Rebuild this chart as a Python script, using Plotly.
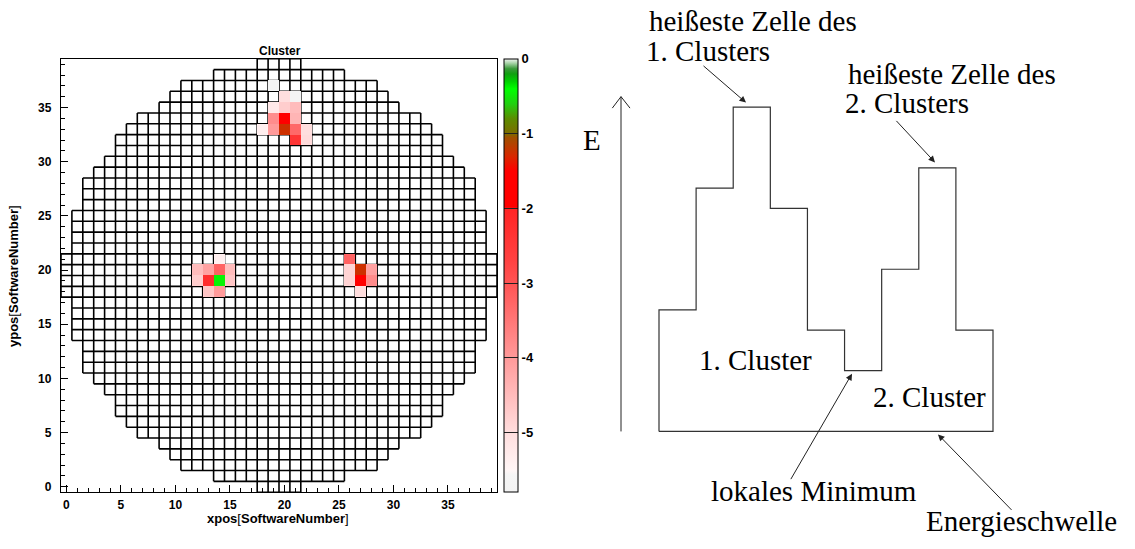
import plotly.graph_objects as go

W, H = 1135, 549

# ---------------------------------------------------------------------------
# Calorimeter layout: first filled column for rows 0..19 (rows 20..39 mirror them)
ROW_FIRST_COL = [18, 14, 11, 10, 9, 7, 6, 5, 5, 4, 3, 2, 2, 2, 1, 1, 1, 1, 0, 0]
N_CELLS = 40

# Cells with deposited energy: column, row, log10(E / E_max)
HIT_X = [20, 20, 21, 21, 19, 19, 21, 21, 20, 20, 19, 18, 22, 22, 19, 21,
         14, 13, 14, 13, 12, 15, 12, 15, 13, 14, 14,
         27, 27, 26, 28, 28, 26, 26, 27]
HIT_Y = [34, 33, 32, 33, 34, 33, 34, 35, 35, 36, 35, 33, 33, 32, 37, 36,
         19, 19, 20, 20, 20, 20, 19, 19, 18, 18, 21,
         19, 20, 21, 20, 19, 20, 19, 18]
HIT_LOGE = [-1.7, -1.25, -2.4, -3.3, -3.8, -4.0, -4.4, -4.5, -4.75, -5.0, -5.2, -5.35, -5.0, -4.95, -5.7, -5.7,
            -0.45, -2.2, -3.2, -4.1, -4.5, -4.5, -4.75, -4.65, -4.65, -4.0, -5.35,
            -1.7, -1.25, -3.2, -4.1, -3.8, -4.85, -4.85, -5.0]

Z_MIN, Z_MAX = -5.79, 0.0
COLORBAR_TICKS = [-5, -4, -3, -2, -1, 0]
COLORBAR_TICKTEXT = ["-5", "-4", "-3", "-2", "-1", "0"]

# palette: (log10 E, colour)
PALETTE = [
    (-5.79, "#f3f3f3"), (-5.56, "#f5f5f5"), (-5.5, "#fff6f6"), (-5.0, "#ffdede"),
    (-4.0, "#ff9a9a"), (-3.0, "#ff5454"), (-2.7, "#ff4242"), (-2.0, "#ff2424"),
    (-1.98, "#ff0000"), (-1.5, "#ff0000"), (-1.3, "#d82800"), (-1.05, "#a05000"),
    (-1.0, "#7c6c00"), (-0.8, "#5c8c00"), (-0.6, "#20d010"), (-0.4, "#00ff00"),
    (-0.3, "#00d000"), (-0.2, "#10a010"), (-0.13, "#3a9a3a"), (-0.05, "#b0d8b0"),
    (0.0, "#f0f4f0"),
]

# Schematic: energy per crystal along a line through two clusters (arbitrary units)
CELL_E = [3, 6, 8, 5.5, 2.5, 1.5, 4, 6.5, 2.5]

# ---------------------------------------------------------------------------
SANS = "Liberation Sans"
SERIF = "Liberation Serif"


def px(x):
    return x / W


def py(y):
    return 1 - y / H


# row extents of the detector
rows = []
for j in range(N_CELLS):
    first = ROW_FIRST_COL[j] if j < N_CELLS // 2 else ROW_FIRST_COL[N_CELLS - 1 - j]
    rows.append((first, N_CELLS - 1 - first))

# cell outlines as one path in data coordinates
segs = []
for j, (s, e) in enumerate(rows):
    x0, x1 = s - 0.5, e + 0.5
    segs.append(f"M{x0},{j - 0.5}L{x1},{j - 0.5}")
    segs.append(f"M{x0},{j + 0.5}L{x1},{j + 0.5}")
    for k in range(s, e + 2):
        segs.append(f"M{k - 0.5},{j - 0.5}L{k - 0.5},{j + 0.5}")
grid_path = "".join(segs)

# energy map
z = [[None] * N_CELLS for _ in range(N_CELLS)]
for cx, cy, v in zip(HIT_X, HIT_Y, HIT_LOGE):
    z[cy][cx] = v

colorscale = [[(v - Z_MIN) / (Z_MAX - Z_MIN), c] for v, c in PALETTE]

tick_font = dict(family=SANS, size=12, color="black", weight=700)

fig = go.Figure()

fig.add_trace(go.Heatmap(
    x=list(range(N_CELLS)), y=list(range(N_CELLS)), z=z,
    zmin=Z_MIN, zmax=Z_MAX, colorscale=colorscale, hoverinfo="skip",
    colorbar=dict(
        x=px(504), xanchor="left", y=py(59), yanchor="top",
        len=(494 - 59) / H, lenmode="fraction", thickness=14, thicknessmode="pixels",
        xpad=0, ypad=0, outlinewidth=1, outlinecolor="black",
        tickvals=COLORBAR_TICKS, ticktext=COLORBAR_TICKTEXT,
        ticks="inside", ticklen=14, tickwidth=1, tickcolor="#222",
        tickfont=dict(family=SANS, size=13, color="black", weight=700),
    ),
))

# schematic outline
sx, sy = [0], [0]
for i, e in enumerate(CELL_E):
    sx += [i, i + 1]
    sy += [e, e]
sx += [len(CELL_E), 0]
sy += [0, 0]
fig.add_trace(go.Scatter(
    x=sx, y=sy, xaxis="x2", yaxis="y2", mode="lines",
    line=dict(color="#333", width=1.2), hoverinfo="skip", showlegend=False,
))

SCH_X0, CELL_PX = 659, (993 - 659) / len(CELL_E)
SCH_BASE, UNIT_PX = 433, (433 - 107.5) / max(CELL_E)

axis_common = dict(
    range=[-0.5, N_CELLS - 0.5], showline=True, mirror=True, linecolor="black", linewidth=1.3,
    ticks="inside", ticklen=7, tickwidth=1, tickcolor="black", tick0=0, dtick=5,
    minor=dict(ticks="inside", ticklen=4, dtick=1, tickcolor="black", tickwidth=1),
    showgrid=False, zeroline=False, tickfont=tick_font, fixedrange=True,
)

fig.update_layout(
    width=W, height=H, margin=dict(l=0, r=0, t=0, b=0),
    paper_bgcolor="white", plot_bgcolor="white", showlegend=False,
    xaxis=dict(domain=[px(61), px(497)], anchor="y", ticklabelstandoff=1, **axis_common),
    yaxis=dict(domain=[py(494), py(59)], anchor="x", ticklabelstandoff=6, **axis_common),
    xaxis2=dict(domain=[px(560), 1], anchor="y2", visible=False,
                range=[(560 - SCH_X0) / CELL_PX, (W - SCH_X0) / CELL_PX]),
    yaxis2=dict(domain=[0, 1], anchor="x2", visible=False,
                range=[-(H - SCH_BASE) / UNIT_PX, SCH_BASE / UNIT_PX]),
    shapes=[
        dict(type="path", path=grid_path, xref="x", yref="y",
             line=dict(color="black", width=1.6), layer="below"),
        # energy axis with open arrow head
        dict(type="line", xref="paper", yref="paper", x0=px(621), y0=py(433), x1=px(621), y1=py(97),
             line=dict(color="#222", width=1)),
        dict(type="path", xref="paper", yref="paper",
             path=f"M{px(612.3)},{py(108.5)}L{px(621)},{py(97)}L{px(630)},{py(108.5)}",
             line=dict(color="#222", width=1)),
    ],
)

ann = []
# left panel texts
br_l = "<span style='font-weight:normal'>[</span>"
br_r = "<span style='font-weight:normal'>]</span>"
ann.append(dict(text="<b>Cluster</b>", x=px(280), y=py(51), xref="paper", yref="paper",
                xanchor="center", yanchor="middle", showarrow=False,
                font=dict(family=SANS, size=12, color="black")))
ann.append(dict(text=f"<b>xpos{br_l}SoftwareNumber{br_r}</b>", x=px(278), y=py(520),
                xref="paper", yref="paper", xanchor="center", yanchor="middle", showarrow=False,
                font=dict(family=SANS, size=13, color="black")))
ann.append(dict(text=f"<b>ypos{br_l}SoftwareNumber{br_r}</b>", x=px(14), y=py(277),
                xref="paper", yref="paper", xanchor="center", yanchor="middle",
                showarrow=False, textangle=-90,
                font=dict(family=SANS, size=13, color="black")))

# schematic labels
serif = dict(family=SERIF, size=29, color="black")
labels = [
    ("heißeste Zelle des", 753, 21),
    ("1. Clusters", 708, 51),
    ("heißeste Zelle des", 952, 74),
    ("2. Clusters", 907, 103),
    ("E", 592, 141),
    ("1. Cluster", 755, 361),
    ("2. Cluster", 929, 398),
    ("lokales Minimum", 814, 493),
    ("Energieschwelle", 1021, 523),
]
for t, cx, cy in labels:
    ann.append(dict(text=t, x=px(cx), y=py(cy), xref="paper", yref="paper",
                    xanchor="center", yanchor="middle", showarrow=False, font=serif))

# pointer arrows: (tail x, tail y, tip x, tip y)
arrows = [
    (702, 65, 746, 103),
    (895, 120, 935, 163),
    (790, 482, 852, 375),
    (1013, 513, 938, 436),
]
for tx, ty, hx, hy in arrows:
    ann.append(dict(text="", x=px(hx), y=py(hy), xref="paper", yref="paper",
                    ax=tx - hx, ay=ty - hy, axref="pixel", ayref="pixel",
                    showarrow=True, arrowhead=2, arrowsize=1.3, arrowwidth=1,
                    arrowcolor="#222", standoff=0, startstandoff=0))

fig.update_layout(annotations=ann)

fig.write_html("out.html")
